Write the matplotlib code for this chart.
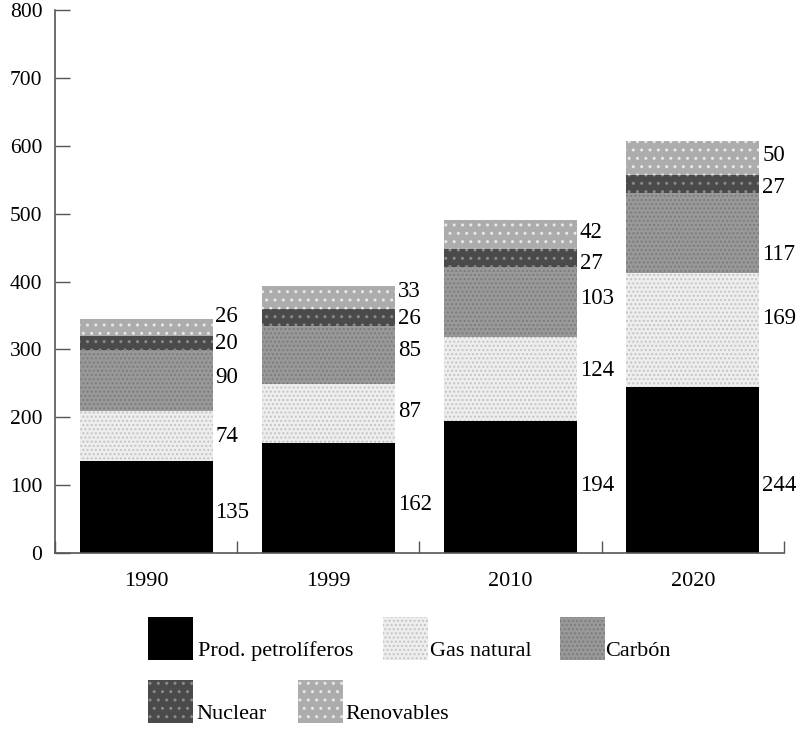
import matplotlib
matplotlib.use("Agg")
import matplotlib.pyplot as plt
from matplotlib.patches import Rectangle
import numpy as np

# ---- data ----
years = ["1990", "1999", "2010", "2020"]
series_names = ["Prod. petrolíferos", "Gas natural", "Carbón", "Nuclear", "Renovables"]
petroliferos = [135, 162, 194, 244]
gas_natural = [74, 87, 124, 169]
carbon = [90, 85, 103, 117]
nuclear = [20, 26, 27, 27]
renovables = [26, 33, 42, 50]
y_ticks = [0, 100, 200, 300, 400, 500, 600, 700, 800]

# ---- layout (label vertical positions, data units) ----
label_y = [
    [60, 172, 259, 309, 349],
    [72, 209, 298, 346, 386],
    [100, 269, 375, 427, 472],
    [100, 345, 440, 539, 586],
]

styles = [
    dict(face="#000000", hatch=None, hc="#000000"),
    dict(face="#eeeeee", hatch="....", hc="#c4c4c4"),
    dict(face="#999999", hatch="....", hc="#7c7c7c"),
    dict(face="#4a4a4a", hatch="..", hc="#8a8a8a"),
    dict(face="#acacac", hatch="..", hc="#e8e8e8"),
]

plt.rcParams["font.family"] = ["Liberation Serif", "DejaVu Serif"]
plt.rcParams["hatch.linewidth"] = 1.0

W, H = 803, 731
fig = plt.figure(figsize=(W / 100, H / 100), dpi=100)
ax = fig.add_axes([55 / W, (H - 553) / H, (784 - 55) / W, (553 - 10) / H])

data = [petroliferos, gas_natural, carbon, nuclear, renovables]
x = np.arange(len(years))
bw = 0.73
bottom = np.zeros(len(years))
for vals, st in zip(data, styles):
    ax.bar(x, vals, bw, bottom=bottom, color=st["face"], edgecolor=st["hc"],
           hatch=st["hatch"], linewidth=0)
    bottom += np.array(vals)

for i in range(len(years)):
    for j, vals in enumerate(data):
        ax.text(x[i] + bw / 2 + 0.015, label_y[i][j], str(vals[i]),
                ha="left", va="center", fontsize=16.5, color="#000000")

ax.set_xlim(-0.5, 3.5)
ax.set_ylim(0, 800)
ax.set_yticks(y_ticks)
ax.set_yticklabels([str(t) for t in y_ticks], fontsize=15.5)
ax.set_xticks(x)
ax.set_xticklabels(years, fontsize=16)
ax.set_xticks(np.arange(-0.5, 4.0, 1.0), minor=True)
ax.tick_params(axis="x", which="major", length=0, pad=14)
ax.tick_params(axis="x", which="minor", direction="in", length=9, width=1, color="#555555")
ax.tick_params(axis="y", direction="in", length=11, width=1, color="#555555", pad=9)
for s in ["top", "right"]:
    ax.spines[s].set_visible(False)
for s in ["left", "bottom"]:
    ax.spines[s].set_color("#555555")
    ax.spines[s].set_linewidth(1.2)

# ---- legend (manual, figure pixels) ----
leg = [
    (148, 617, 0, 198, 656),
    (383, 617, 1, 430, 656),
    (560, 617, 2, 605, 656),
    (148, 680, 3, 196, 719),
    (298, 680, 4, 345, 719),
]
for (lx, ly, k, tx, ty) in leg:
    st = styles[k]
    r = Rectangle((lx / W, 1 - (ly + 43) / H), 45 / W, 43 / H, transform=fig.transFigure,
                  facecolor=st["face"], edgecolor=st["hc"], hatch=st["hatch"], linewidth=0)
    fig.add_artist(r)
    fig.text(tx / W, 1 - ty / H, series_names[k], ha="left", va="baseline",
             fontsize=16, color="#000000")

fig.savefig("out.png", dpi=100)
